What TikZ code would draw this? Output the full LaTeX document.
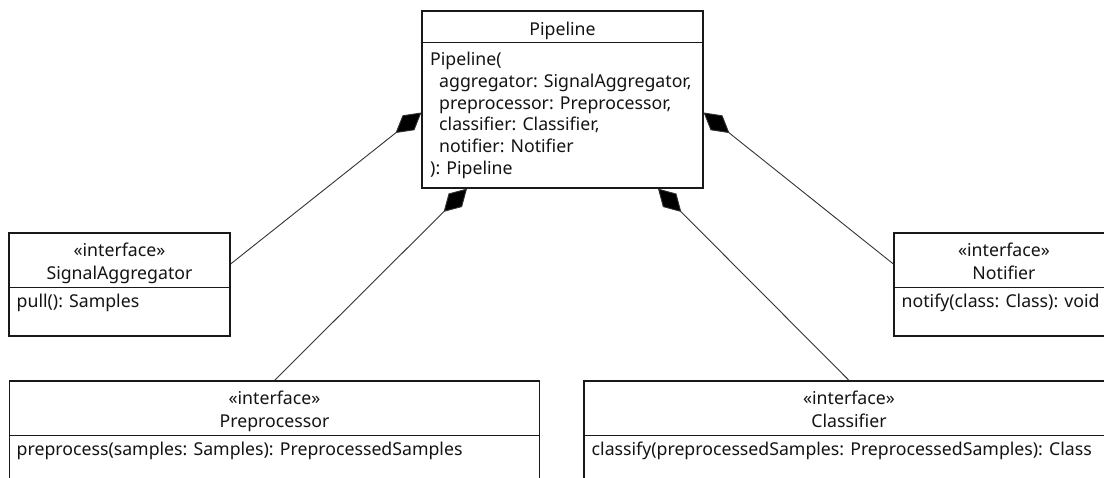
\documentclass[tikz,border=0pt]{standalone}
\usepackage{fontspec}
\setmainfont{Noto Sans}
\usetikzlibrary{arrows.meta,backgrounds}

\begin{document}
\begin{tikzpicture}[x=1pt,y=-1pt,
  box/.style={draw=black!90, line width=1.2pt, fill=white, rectangle, inner sep=0pt},
  divider/.style={draw=black!90, line width=1.2pt},
  txt/.style={inner sep=0pt, anchor=base, text=black!92, font=\fontsize{17.7}{21.8}\selectfont},
  ltxt/.style={txt, anchor=base west},
  comp/.style={draw=black!80, line width=0.9pt, {Diamond[length=33pt,width=19pt,fill=black]}-}
]
\useasboundingbox (0,0) rectangle (1104,478);
\clip (0,0) rectangle (1104,478);

% class boxes
\node[box, minimum width=281pt, minimum height=177pt] (pipe) at (562.5,99.5) {};
\node[box, minimum width=221pt, minimum height=103pt] (sa)   at (119.5,284.5) {};
\node[box, minimum width=220pt, minimum height=103pt] (nt)   at (1004,284.5) {};
\node[box, minimum width=530pt, minimum height=103pt] (pre)  at (274.5,432.5) {};
\node[box, minimum width=530pt, minimum height=103pt] (cls)  at (849,432.5) {};

% compartment dividers
\draw[divider] ([yshift=-32pt]pipe.north west) -- ([yshift=-32pt]pipe.north east);
\foreach \b in {sa,nt,pre,cls}
  \draw[divider] ([yshift=-55pt]\b.north west) -- ([yshift=-55pt]\b.north east);

% Pipeline
\node[txt]  (pipe-title) at (562.5,35.7) {Pipeline};
\node[ltxt] (pipe-l1) at (430,65.5)  {Pipeline(};
\node[ltxt] (pipe-l2) at (439,87.3)  {aggregator: SignalAggregator,};
\node[ltxt] (pipe-l3) at (439,109.1) {preprocessor: Preprocessor,};
\node[ltxt] (pipe-l4) at (439,130.9) {classifier: Classifier,};
\node[ltxt] (pipe-l5) at (439,152.7) {notifier: Notifier};
\node[ltxt] (pipe-l6) at (430,174.5) {): Pipeline};

% SignalAggregator
\node[txt]  (sa-st)   at (119.5,257)  {«interface»};
\node[txt]  (sa-name) at (119.5,279.5) {SignalAggregator};
\node[ltxt] (sa-m1)   at (16.5,308)   {pull(): Samples};

% Notifier
\node[txt]  (nt-st)   at (1004,257)   {«interface»};
\node[txt]  (nt-name) at (1004,279.5) {Notifier};
\node[ltxt] (nt-m1)   at (901.5,308)  {notify(class: Class): void};

% Preprocessor
\node[txt]  (pre-st)   at (274.5,405)   {«interface»};
\node[txt]  (pre-name) at (274.5,427.5) {Preprocessor};
\node[ltxt] (pre-m1)   at (16.5,456)    {preprocess(samples: Samples): PreprocessedSamples};

% Classifier
\node[txt]  (cls-st)   at (849,405)   {«interface»};
\node[txt]  (cls-name) at (849,427.5) {Classifier};
\node[ltxt] (cls-m1)   at (591.5,456) {classify(preprocessedSamples: PreprocessedSamples): Class};

% composition links, drawn beneath the boxes
\begin{pgfonlayer}{background}
  \draw[comp] ([yshift=-13pt]pipe.west) -- ([yshift=20.5pt]sa.west -| sa.east);
  \draw[comp] ([yshift=-13pt]pipe.east) -- ([yshift=20.5pt]nt.west);
  \draw[comp] ([xshift=-95.5pt]pipe.south) -- (pre.north);
  \draw[comp] ([xshift=95.5pt]pipe.south) -- (cls.north);
\end{pgfonlayer}
\end{tikzpicture}
\end{document}
